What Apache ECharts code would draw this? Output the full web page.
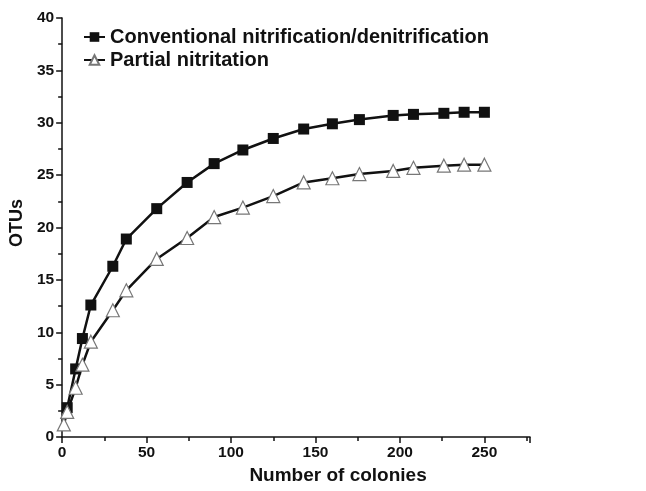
<!DOCTYPE html>
<html>
<head>
<meta charset="utf-8">
<script src="https://cdn.jsdelivr.net/npm/echarts@6/dist/echarts.min.js"></script>
<style>
html,body{margin:0;padding:0;background:#fff;}
#chart{width:646px;height:491px;}
</style>
</head>
<body>
<div id="chart"></div>
<script>
const colonies = [3, 8, 12, 17, 30, 38, 56, 74, 90, 107, 125, 143, 160, 176, 196, 208, 226, 238, 250];
const conventional = [2.8, 6.5, 9.4, 12.6, 16.3, 18.9, 21.8, 24.3, 26.1, 27.4, 28.5, 29.4, 29.9, 30.3, 30.7, 30.8, 30.9, 31.0, 31.0];
const partialX = [1, 3, 8, 12, 17, 30, 38, 56, 74, 90, 107, 125, 143, 160, 176, 196, 208, 226, 238, 250];
const partial = [1.2, 2.4, 4.7, 6.9, 9.1, 12.1, 14.0, 17.0, 19.0, 21.0, 21.9, 23.0, 24.3, 24.7, 25.1, 25.4, 25.7, 25.9, 26.0, 26.0];
const xTicks = [0, 50, 100, 150, 200, 250];
const seriesNames = ['Conventional nitrification/denitrification', 'Partial nitritation'];

const font = '"Liberation Sans", Arial, sans-serif';
const chart = echarts.init(document.getElementById('chart'), null, {renderer: 'canvas'});
chart.setOption({
  animation: false,
  backgroundColor: '#fff',
  grid: {left: 52, right: 116, top: 18, bottom: 54, containLabel: false},
  legend: {
    orient: 'vertical', left: 78, top: 22, itemGap: 3, itemWidth: 21, itemHeight: 12,
    textStyle: {fontFamily: font, fontWeight: 'bold', fontSize: 20, color: '#111'},
    data: seriesNames
  },
  xAxis: {
    type: 'value', min: 0, max: 277, interval: 50,
    name: 'Number of colonies', nameLocation: 'middle', nameGap: 25,
    nameTextStyle: {fontFamily: font, fontWeight: 'bold', fontSize: 19, color: '#111', padding: [0, 0, 0, 84]},
    axisLine: {show: true, lineStyle: {color: '#111', width: 1.5}},
    axisTick: {show: true, length: 6, lineStyle: {color: '#111', width: 1.5}},
    minorTick: {show: true, splitNumber: 2, length: 4, lineStyle: {color: '#111', width: 1.5}},
    axisLabel: {fontFamily: font, fontWeight: 'bold', fontSize: 15.5, color: '#111', margin: 8,
      formatter: v => xTicks.includes(v) ? String(v) : ''},
    splitLine: {show: false}
  },
  yAxis: {
    type: 'value', min: 0, max: 40, interval: 5,
    name: 'OTUs', nameLocation: 'middle', nameGap: 33,
    nameTextStyle: {fontFamily: font, fontWeight: 'bold', fontSize: 18, color: '#111', padding: [0, 0, 0, 9]},
    axisLine: {show: true, lineStyle: {color: '#111', width: 1.5}},
    axisTick: {show: true, length: 6, lineStyle: {color: '#111', width: 1.5}},
    minorTick: {show: true, splitNumber: 2, length: 4, lineStyle: {color: '#111', width: 1.5}},
    axisLabel: {fontFamily: font, fontWeight: 'bold', fontSize: 15.5, color: '#111', margin: 8},
    splitLine: {show: false}
  },
  series: [
    {
      name: seriesNames[0], type: 'line',
      data: colonies.map((x, i) => [x, conventional[i]]),
      symbol: 'rect', symbolSize: 11, showAllSymbol: true,
      lineStyle: {color: '#111', width: 2.5},
      itemStyle: {color: '#111', borderColor: '#111', borderWidth: 0}
    },
    {
      name: seriesNames[1], type: 'line',
      data: partialX.map((x, i) => [x, partial[i]]),
      symbol: 'triangle', symbolSize: 13, showAllSymbol: true,
      lineStyle: {color: '#111', width: 2.5},
      itemStyle: {color: '#fff', borderColor: '#777', borderWidth: 1.2}
    }
  ]
});
</script>
</body>
</html>
